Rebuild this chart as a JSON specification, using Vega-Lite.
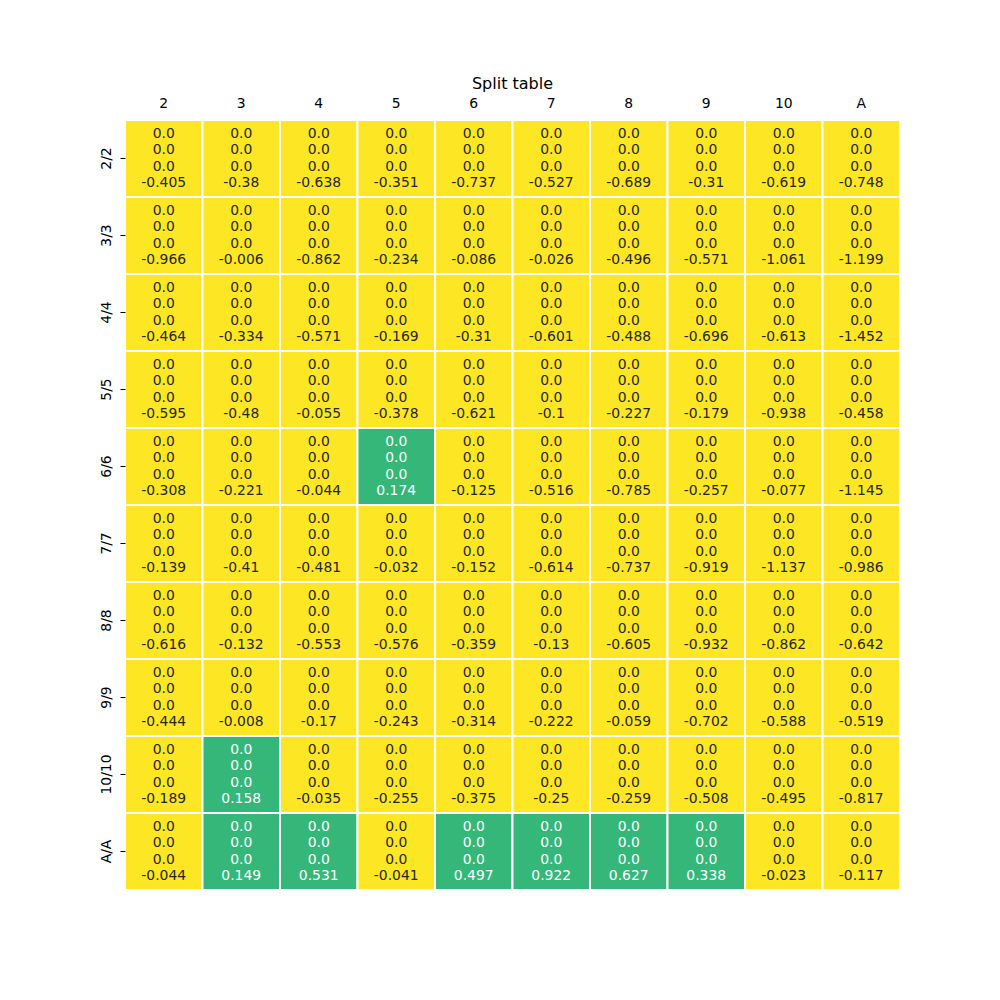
{
  "$schema": "https://vega.github.io/schema/vega-lite/v6.json",
  "width": 775,
  "height": 770,
  "autosize": {"type": "none"},
  "padding": {"left": 125, "top": 120, "right": 100, "bottom": 110},
  "background": "white",
  "config": {"view": {"stroke": null}, "font": "DejaVu Sans"},
  "title": {"text": "Split table", "fontSize": 16, "fontWeight": "normal", "font": "DejaVu Sans", "color": "black", "offset": 4, "anchor": "middle"},
  "data": {"values": [
    {"r":"2/2","c":"2","h":0,"s":0,"d":0,"p":-0.405},{"r":"2/2","c":"3","h":0,"s":0,"d":0,"p":-0.38},{"r":"2/2","c":"4","h":0,"s":0,"d":0,"p":-0.638},{"r":"2/2","c":"5","h":0,"s":0,"d":0,"p":-0.351},{"r":"2/2","c":"6","h":0,"s":0,"d":0,"p":-0.737},{"r":"2/2","c":"7","h":0,"s":0,"d":0,"p":-0.527},{"r":"2/2","c":"8","h":0,"s":0,"d":0,"p":-0.689},{"r":"2/2","c":"9","h":0,"s":0,"d":0,"p":-0.31},{"r":"2/2","c":"10","h":0,"s":0,"d":0,"p":-0.619},{"r":"2/2","c":"A","h":0,"s":0,"d":0,"p":-0.748},
    {"r":"3/3","c":"2","h":0,"s":0,"d":0,"p":-0.966},{"r":"3/3","c":"3","h":0,"s":0,"d":0,"p":-0.006},{"r":"3/3","c":"4","h":0,"s":0,"d":0,"p":-0.862},{"r":"3/3","c":"5","h":0,"s":0,"d":0,"p":-0.234},{"r":"3/3","c":"6","h":0,"s":0,"d":0,"p":-0.086},{"r":"3/3","c":"7","h":0,"s":0,"d":0,"p":-0.026},{"r":"3/3","c":"8","h":0,"s":0,"d":0,"p":-0.496},{"r":"3/3","c":"9","h":0,"s":0,"d":0,"p":-0.571},{"r":"3/3","c":"10","h":0,"s":0,"d":0,"p":-1.061},{"r":"3/3","c":"A","h":0,"s":0,"d":0,"p":-1.199},
    {"r":"4/4","c":"2","h":0,"s":0,"d":0,"p":-0.464},{"r":"4/4","c":"3","h":0,"s":0,"d":0,"p":-0.334},{"r":"4/4","c":"4","h":0,"s":0,"d":0,"p":-0.571},{"r":"4/4","c":"5","h":0,"s":0,"d":0,"p":-0.169},{"r":"4/4","c":"6","h":0,"s":0,"d":0,"p":-0.31},{"r":"4/4","c":"7","h":0,"s":0,"d":0,"p":-0.601},{"r":"4/4","c":"8","h":0,"s":0,"d":0,"p":-0.488},{"r":"4/4","c":"9","h":0,"s":0,"d":0,"p":-0.696},{"r":"4/4","c":"10","h":0,"s":0,"d":0,"p":-0.613},{"r":"4/4","c":"A","h":0,"s":0,"d":0,"p":-1.452},
    {"r":"5/5","c":"2","h":0,"s":0,"d":0,"p":-0.595},{"r":"5/5","c":"3","h":0,"s":0,"d":0,"p":-0.48},{"r":"5/5","c":"4","h":0,"s":0,"d":0,"p":-0.055},{"r":"5/5","c":"5","h":0,"s":0,"d":0,"p":-0.378},{"r":"5/5","c":"6","h":0,"s":0,"d":0,"p":-0.621},{"r":"5/5","c":"7","h":0,"s":0,"d":0,"p":-0.1},{"r":"5/5","c":"8","h":0,"s":0,"d":0,"p":-0.227},{"r":"5/5","c":"9","h":0,"s":0,"d":0,"p":-0.179},{"r":"5/5","c":"10","h":0,"s":0,"d":0,"p":-0.938},{"r":"5/5","c":"A","h":0,"s":0,"d":0,"p":-0.458},
    {"r":"6/6","c":"2","h":0,"s":0,"d":0,"p":-0.308},{"r":"6/6","c":"3","h":0,"s":0,"d":0,"p":-0.221},{"r":"6/6","c":"4","h":0,"s":0,"d":0,"p":-0.044},{"r":"6/6","c":"5","h":0,"s":0,"d":0,"p":0.174},{"r":"6/6","c":"6","h":0,"s":0,"d":0,"p":-0.125},{"r":"6/6","c":"7","h":0,"s":0,"d":0,"p":-0.516},{"r":"6/6","c":"8","h":0,"s":0,"d":0,"p":-0.785},{"r":"6/6","c":"9","h":0,"s":0,"d":0,"p":-0.257},{"r":"6/6","c":"10","h":0,"s":0,"d":0,"p":-0.077},{"r":"6/6","c":"A","h":0,"s":0,"d":0,"p":-1.145},
    {"r":"7/7","c":"2","h":0,"s":0,"d":0,"p":-0.139},{"r":"7/7","c":"3","h":0,"s":0,"d":0,"p":-0.41},{"r":"7/7","c":"4","h":0,"s":0,"d":0,"p":-0.481},{"r":"7/7","c":"5","h":0,"s":0,"d":0,"p":-0.032},{"r":"7/7","c":"6","h":0,"s":0,"d":0,"p":-0.152},{"r":"7/7","c":"7","h":0,"s":0,"d":0,"p":-0.614},{"r":"7/7","c":"8","h":0,"s":0,"d":0,"p":-0.737},{"r":"7/7","c":"9","h":0,"s":0,"d":0,"p":-0.919},{"r":"7/7","c":"10","h":0,"s":0,"d":0,"p":-1.137},{"r":"7/7","c":"A","h":0,"s":0,"d":0,"p":-0.986},
    {"r":"8/8","c":"2","h":0,"s":0,"d":0,"p":-0.616},{"r":"8/8","c":"3","h":0,"s":0,"d":0,"p":-0.132},{"r":"8/8","c":"4","h":0,"s":0,"d":0,"p":-0.553},{"r":"8/8","c":"5","h":0,"s":0,"d":0,"p":-0.576},{"r":"8/8","c":"6","h":0,"s":0,"d":0,"p":-0.359},{"r":"8/8","c":"7","h":0,"s":0,"d":0,"p":-0.13},{"r":"8/8","c":"8","h":0,"s":0,"d":0,"p":-0.605},{"r":"8/8","c":"9","h":0,"s":0,"d":0,"p":-0.932},{"r":"8/8","c":"10","h":0,"s":0,"d":0,"p":-0.862},{"r":"8/8","c":"A","h":0,"s":0,"d":0,"p":-0.642},
    {"r":"9/9","c":"2","h":0,"s":0,"d":0,"p":-0.444},{"r":"9/9","c":"3","h":0,"s":0,"d":0,"p":-0.008},{"r":"9/9","c":"4","h":0,"s":0,"d":0,"p":-0.17},{"r":"9/9","c":"5","h":0,"s":0,"d":0,"p":-0.243},{"r":"9/9","c":"6","h":0,"s":0,"d":0,"p":-0.314},{"r":"9/9","c":"7","h":0,"s":0,"d":0,"p":-0.222},{"r":"9/9","c":"8","h":0,"s":0,"d":0,"p":-0.059},{"r":"9/9","c":"9","h":0,"s":0,"d":0,"p":-0.702},{"r":"9/9","c":"10","h":0,"s":0,"d":0,"p":-0.588},{"r":"9/9","c":"A","h":0,"s":0,"d":0,"p":-0.519},
    {"r":"10/10","c":"2","h":0,"s":0,"d":0,"p":-0.189},{"r":"10/10","c":"3","h":0,"s":0,"d":0,"p":0.158},{"r":"10/10","c":"4","h":0,"s":0,"d":0,"p":-0.035},{"r":"10/10","c":"5","h":0,"s":0,"d":0,"p":-0.255},{"r":"10/10","c":"6","h":0,"s":0,"d":0,"p":-0.375},{"r":"10/10","c":"7","h":0,"s":0,"d":0,"p":-0.25},{"r":"10/10","c":"8","h":0,"s":0,"d":0,"p":-0.259},{"r":"10/10","c":"9","h":0,"s":0,"d":0,"p":-0.508},{"r":"10/10","c":"10","h":0,"s":0,"d":0,"p":-0.495},{"r":"10/10","c":"A","h":0,"s":0,"d":0,"p":-0.817},
    {"r":"A/A","c":"2","h":0,"s":0,"d":0,"p":-0.044},{"r":"A/A","c":"3","h":0,"s":0,"d":0,"p":0.149},{"r":"A/A","c":"4","h":0,"s":0,"d":0,"p":0.531},{"r":"A/A","c":"5","h":0,"s":0,"d":0,"p":-0.041},{"r":"A/A","c":"6","h":0,"s":0,"d":0,"p":0.497},{"r":"A/A","c":"7","h":0,"s":0,"d":0,"p":0.922},{"r":"A/A","c":"8","h":0,"s":0,"d":0,"p":0.627},{"r":"A/A","c":"9","h":0,"s":0,"d":0,"p":0.338},{"r":"A/A","c":"10","h":0,"s":0,"d":0,"p":-0.023},{"r":"A/A","c":"A","h":0,"s":0,"d":0,"p":-0.117}
  ]},
  "encoding": {
    "x": {"field": "c", "type": "ordinal", "sort": null, "scale": {"paddingInner": 0, "paddingOuter": 0},
      "axis": {"orient": "top", "title": null, "labelAngle": 0, "ticks": false, "domain": false, "labelFontSize": 13.9, "labelColor": "black", "labelPadding": 10, "labelFont": "DejaVu Sans"}},
    "y": {"field": "r", "type": "ordinal", "sort": null, "scale": {"paddingInner": 0, "paddingOuter": 0},
      "axis": {"title": null, "labelAngle": -90, "labelAlign": "center", "labelBaseline": "bottom", "ticks": true, "tickSize": 5, "tickColor": "black", "domain": false, "labelFontSize": 13.9, "labelColor": "black", "labelPadding": 7, "labelFont": "DejaVu Sans"}}
  },
  "layer": [
    {"mark": {"type": "rect", "stroke": "white", "strokeWidth": 2},
     "encoding": {"color": {"field": "p", "type": "quantitative", "scale": {"type": "threshold", "domain": [0], "range": ["#fde725", "#35b779"]}, "legend": null}}},
    {"mark": {"type": "text", "fontSize": 13.9, "dy": -24.75, "font": "DejaVu Sans"},
     "encoding": {"text": {"field": "h", "type": "quantitative", "format": ".1f"},
       "color": {"condition": {"test": "datum.p > 0", "value": "white"}, "value": "#262626"}}},
    {"mark": {"type": "text", "fontSize": 13.9, "dy": -8.25, "font": "DejaVu Sans"},
     "encoding": {"text": {"field": "s", "type": "quantitative", "format": ".1f"},
       "color": {"condition": {"test": "datum.p > 0", "value": "white"}, "value": "#262626"}}},
    {"mark": {"type": "text", "fontSize": 13.9, "dy": 8.25, "font": "DejaVu Sans"},
     "encoding": {"text": {"field": "d", "type": "quantitative", "format": ".1f"},
       "color": {"condition": {"test": "datum.p > 0", "value": "white"}, "value": "#262626"}}},
    {"mark": {"type": "text", "fontSize": 13.9, "dy": 24.75, "font": "DejaVu Sans"},
     "encoding": {"text": {"field": "p", "type": "nominal"},
       "color": {"condition": {"test": "datum.p > 0", "value": "white"}, "value": "#262626"}}}
  ]
}
